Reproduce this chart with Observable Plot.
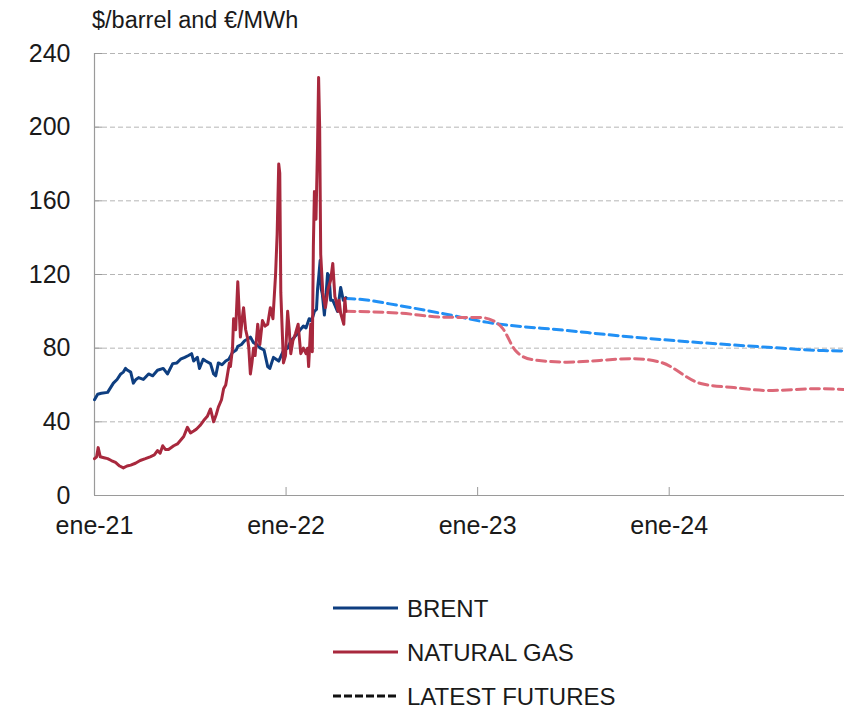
<!DOCTYPE html>
<html>
<head>
<meta charset="utf-8">
<script src="https://cdn.jsdelivr.net/npm/d3@7"></script>
<script src="https://cdn.jsdelivr.net/npm/@observablehq/plot@0.6"></script>
<style>
  html, body { margin: 0; padding: 0; background: #fff; }
  body { width: 844px; height: 711px; position: relative; overflow: hidden;
         font-family: "Liberation Sans", Arial, Helvetica, sans-serif; color: #1a1a1a; }
  #chart { position: absolute; left: 0; top: 25px; }
  #title { position: absolute; left: 92px; top: 9px; font-size: 23.5px; line-height: 1; z-index: 2; }
  #legend { position: absolute; left: 0; top: 540px; }
</style>
</head>
<body>
<div id="chart"></div>
<div id="title"></div>
<div id="legend"></div>
<script>
// ---------- data ----------
const brentDates = ["2021-01-01","2021-01-07","2021-01-14","2021-01-26","2021-02-06","2021-02-13","2021-02-20","2021-02-25","2021-03-01","2021-03-05","2021-03-11","2021-03-16","2021-03-21","2021-03-26","2021-04-04","2021-04-14","2021-04-22","2021-05-01","2021-05-12","2021-05-20","2021-05-30","2021-06-07","2021-06-14","2021-06-22","2021-06-29","2021-07-05","2021-07-09","2021-07-16","2021-07-20","2021-07-27","2021-08-01","2021-08-10","2021-08-16","2021-08-20","2021-08-25","2021-09-01","2021-09-08","2021-09-14","2021-09-21","2021-09-28","2021-10-01","2021-10-08","2021-10-14","2021-10-20","2021-10-25","2021-10-31","2021-11-06","2021-11-13","2021-11-20","2021-11-27","2021-12-01","2021-12-08","2021-12-13","2021-12-18","2021-12-27","2022-01-04","2022-01-10","2022-01-17","2022-01-23","2022-01-28","2022-02-03","2022-02-08","2022-02-14","2022-02-17","2022-02-21","2022-02-24","2022-02-28","2022-03-02","2022-03-04","2022-03-07","2022-03-09","2022-03-11","2022-03-15","2022-03-18","2022-03-21","2022-03-24","2022-03-27","2022-03-31","2022-04-06","2022-04-09","2022-04-15","2022-04-20","2022-04-25"];
const brentValues = [52,55,55.5,56,61,63,66,67,69,68,67,61,63,64,63,66,65,68,69,66,71.6,72,74,75,76,77,73,75,69,74,73,71.6,66,65,72,71,73,74,77.7,79,81,82,84,85,86,83,82,80,79,70,69,75,74,73,78.7,80,84,86,88,90,92,91,96,95,97,100,101,112,118,127.6,112,109.6,98,108,120.5,119,106,106,102,100,113,106,107.5];

const gasDates = ["2021-01-01","2021-01-05","2021-01-08","2021-01-12","2021-01-19","2021-01-26","2021-02-02","2021-02-10","2021-02-18","2021-02-25","2021-03-04","2021-03-11","2021-03-20","2021-03-29","2021-04-08","2021-04-17","2021-04-25","2021-05-01","2021-05-06","2021-05-11","2021-05-16","2021-05-22","2021-06-01","2021-06-08","2021-06-14","2021-06-20","2021-06-27","2021-07-03","2021-07-09","2021-07-14","2021-07-21","2021-07-28","2021-08-04","2021-08-10","2021-08-16","2021-08-21","2021-08-25","2021-08-31","2021-09-04","2021-09-08","2021-09-11","2021-09-15","2021-09-17","2021-09-21","2021-09-23","2021-09-27","2021-10-01","2021-10-04","2021-10-06","2021-10-09","2021-10-12","2021-10-16","2021-10-20","2021-10-22","2021-10-25","2021-10-28","2021-10-31","2021-11-03","2021-11-08","2021-11-12","2021-11-17","2021-11-22","2021-11-27","2021-12-02","2021-12-07","2021-12-12","2021-12-15","2021-12-18","2021-12-20","2021-12-22","2021-12-27","2021-12-31","2022-01-04","2022-01-07","2022-01-10","2022-01-14","2022-01-19","2022-01-24","2022-01-29","2022-02-03","2022-02-08","2022-02-11","2022-02-13","2022-02-17","2022-02-20","2022-02-22","2022-02-24","2022-02-27","2022-03-02","2022-03-04","2022-03-06","2022-03-08","2022-03-12","2022-03-17","2022-03-22","2022-03-27","2022-03-31","2022-04-04","2022-04-06","2022-04-10","2022-04-12","2022-04-15","2022-04-19","2022-04-21","2022-04-23","2022-04-25"];
const gasValues = [20,21,26,21,20.5,20,19,18,16,15,16,16.5,17.5,19,20,21,22,24.4,23,27,25,25,27,28,30,32,37,34,35,36,38,40.7,43,47,40,44,48,52,58,60,65,72,70,80,96,90,116,98,86,95,102,90,85,80,66,72,80,76,93,82,95,92,93,102,96,120,142,180,175,110,72,76,100,90,77,84,88,93,77,80,77,80,70,93,78,135,165,150,190,227,200,131,110,102,112,117,126,108,106,100,106,99,95,93,107,100];

const brentFutDates = ["2022-04-25","2022-05-22","2022-08-07","2022-10-28","2023-01-20","2023-06-20","2023-10-24","2024-03-01","2024-07-07","2024-10-21","2024-11-30"];
const brentFutValues = [107,106.5,103,98.7,94,89.6,86,83,80.5,78.7,78.5];

const gasFutDates = ["2022-04-25","2022-08-07","2022-10-28","2023-01-07","2023-01-30","2023-02-18","2023-03-14","2023-04-14","2023-06-20","2023-10-24","2023-12-15","2024-03-01","2024-05-03","2024-07-07","2024-10-10","2024-11-30"];
const gasFutValues = [100,99,96.8,96.6,95,90.6,78.7,73.8,72.4,74.3,72.4,60.8,58.6,57,58,57.5];

const yTicks = [0,40,80,120,160,200,240];
const xTickDates = ["2021-01-01","2022-01-01","2023-01-01","2024-01-01"];
const xTickLabels = ["ene-21","ene-22","ene-23","ene-24"];

const seriesNames = ["BRENT","NATURAL GAS","LATEST FUTURES"];
const colors = { brent: "#0e3e80", gas: "#a8283d", brentFut: "#2190f5", gasFut: "#dc6878" };
const titleText = "$/barrel and €/MWh";

// ---------- build ----------
const parse = d3.utcParse("%Y-%m-%d");
const zip = (ds, vs) => ds.map((d, i) => ({date: parse(d), value: vs[i]}));
const brent = zip(brentDates, brentValues);
const gas = zip(gasDates, gasValues);
const brentFut = zip(brentFutDates, brentFutValues);
const gasFut = zip(gasFutDates, gasFutValues);
const xTicks = xTickDates.map(parse);
const labelOf = new Map(xTicks.map((d, i) => [+d, xTickLabels[i]]));
const xStart = parse("2021-01-01"), xEnd = parse("2024-11-30");

const tickFont = 25;
const plot = Plot.plot({
  width: 844,
  height: 520,
  marginLeft: 94,
  marginRight: 0,
  marginTop: 28,
  marginBottom: 50,
  style: { fontFamily: '"Liberation Sans", Arial, sans-serif', fontSize: tickFont + "px", color: "#1a1a1a", background: "transparent", overflow: "visible" },
  x: { type: "utc", domain: [xStart, xEnd] },
  y: { domain: [0, 240] },
  marks: [
    Plot.gridY(yTicks.filter(d => d > 0), { stroke: "#b5b5b5", strokeOpacity: 1, strokeDasharray: "5,3", strokeWidth: 1 }),
    Plot.ruleY(yTicks.filter(d => d > 0), { y: d => d, x1: xStart, x2: xStart, insetRight: -8, stroke: "#9a9a9a" }),
    Plot.ruleX(xTicks, { x: d => d, y1: 0, y2: 0, insetTop: -8, stroke: "#9a9a9a" }),
    Plot.ruleX([xStart], { stroke: "#9a9a9a", strokeWidth: 1.2 }),
    Plot.ruleY([0], { stroke: "#9a9a9a", strokeWidth: 1.2 }),
    Plot.axisY(yTicks, { tickSize: 0, tickPadding: 24, fontSize: tickFont, label: null }),
    Plot.axisX(xTicks, { tickSize: 0, tickPadding: 21, tickFormat: d => labelOf.get(+d), fontSize: tickFont, label: null }),
    Plot.line(brentFut, { x: "date", y: "value", stroke: colors.brentFut, strokeWidth: 3, strokeDasharray: "9,5", curve: "monotone-x" }),
    Plot.line(gasFut, { x: "date", y: "value", stroke: colors.gasFut, strokeWidth: 3, strokeDasharray: "9,5", curve: "monotone-x" }),
    Plot.line(brent, { x: "date", y: "value", stroke: colors.brent, strokeWidth: 3 }),
    Plot.line(gas, { x: "date", y: "value", stroke: colors.gas, strokeWidth: 3 })
  ]
});
document.getElementById("chart").appendChild(plot);
document.getElementById("title").textContent = titleText;

// ---------- legend ----------
const leg = d3.select("#legend").append("svg").attr("width", 844).attr("height", 171)
  .style("font-family", '"Liberation Sans", Arial, sans-serif');
const legendItems = [
  { name: seriesNames[0], color: colors.brent, dash: null },
  { name: seriesNames[1], color: colors.gas, dash: null },
  { name: seriesNames[2], color: "#111", dash: "8,3" }
];
legendItems.forEach((it, i) => {
  const y = 68 + i * 44;
  const l = leg.append("line").attr("x1", 333).attr("x2", 398).attr("y1", y).attr("y2", y)
    .attr("stroke", it.color).attr("stroke-width", 3);
  if (it.dash) l.attr("stroke-dasharray", it.dash);
  leg.append("text").attr("x", 407).attr("y", y).attr("dy", "0.36em")
    .attr("font-size", 24).attr("fill", "#1a1a1a").text(it.name);
});
</script>
</body>
</html>
